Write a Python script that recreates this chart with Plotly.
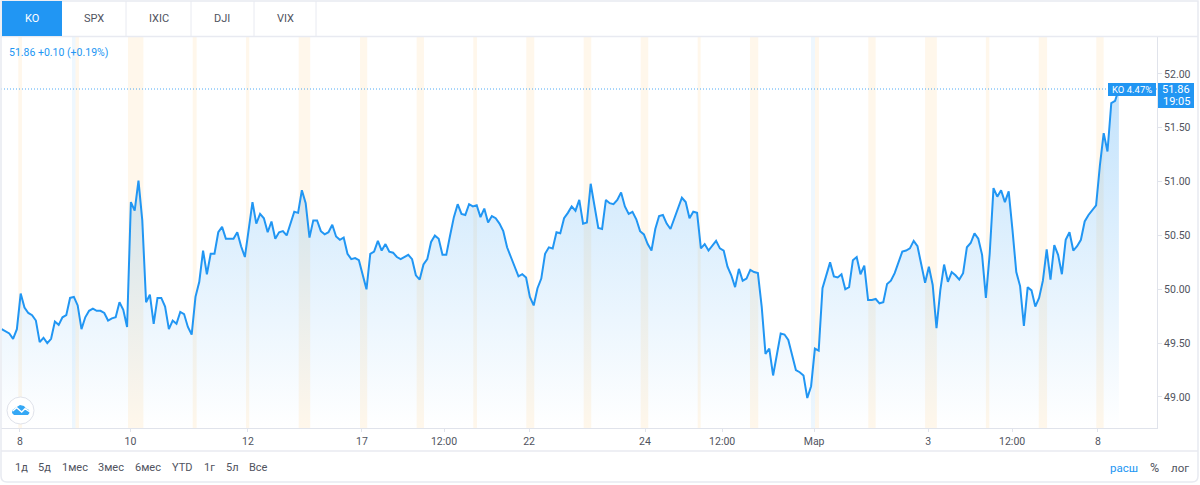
import plotly.graph_objects as go

W, H = 1200, 485
BLUE = "#2196f3"
GRID = "#e0e3eb"
TEXT = "#50535e"
FONT = "Roboto"

# KO price, one value per bar
prices = [
    49.63, 49.61, 49.59, 49.54, 49.63, 49.96, 49.83, 49.78, 49.76, 49.71,
    49.51, 49.55, 49.50, 49.54, 49.70, 49.67, 49.74, 49.76, 49.92, 49.93,
    49.85, 49.63, 49.74, 49.80, 49.82, 49.80, 49.80, 49.78, 49.71, 49.73,
    49.74, 49.88, 49.81, 49.65, 50.81, 50.73, 51.01, 50.64, 49.88, 49.95,
    49.68, 49.92, 49.92, 49.84, 49.63, 49.71, 49.68, 49.79, 49.77, 49.65,
    49.58, 49.93, 50.07, 50.36, 50.14, 50.33, 50.33, 50.53, 50.58, 50.47,
    50.47, 50.47, 50.53, 50.40, 50.30, 50.55, 50.81, 50.61, 50.70, 50.66,
    50.53, 50.63, 50.47, 50.53, 50.54, 50.50, 50.61, 50.72, 50.71, 50.92,
    50.80, 50.48, 50.64, 50.64, 50.54, 50.51, 50.53, 50.60, 50.49, 50.46,
    50.48, 50.33, 50.28, 50.29, 50.27, 50.13, 50.00, 50.33, 50.35, 50.45,
    50.36, 50.42, 50.35, 50.34, 50.30, 50.28, 50.30, 50.32, 50.28, 50.13,
    50.09, 50.23, 50.28, 50.44, 50.50, 50.47, 50.32, 50.32, 50.50, 50.67,
    50.79, 50.70, 50.69, 50.79, 50.77, 50.78, 50.67, 50.75, 50.62, 50.68,
    50.66, 50.61, 50.54, 50.39, 50.30, 50.20, 50.12, 50.14, 50.11, 49.93,
    49.85, 50.01, 50.10, 50.33, 50.39, 50.38, 50.53, 50.52, 50.66, 50.71,
    50.77, 50.73, 50.83, 50.61, 50.62, 50.98, 50.77, 50.57, 50.56, 50.83,
    50.80, 50.79, 50.83, 50.90, 50.77, 50.70, 50.72, 50.65, 50.54, 50.51,
    50.42, 50.36, 50.56, 50.68, 50.69, 50.61, 50.56, 50.66, 50.77, 50.85,
    50.81, 50.66, 50.72, 50.71, 50.38, 50.42, 50.36, 50.40, 50.45, 50.38,
    50.36, 50.21, 50.13, 50.02, 50.19, 50.08, 50.10, 50.18, 50.16, 50.15,
    49.84, 49.40, 49.45, 49.20, 49.41, 49.59, 49.58, 49.53, 49.39, 49.25,
    49.23, 49.20, 48.99, 49.10, 49.45, 49.43, 50.01, 50.12, 50.25, 50.12,
    50.11, 50.14, 50.00, 50.02, 50.27, 50.30, 50.14, 50.22, 49.90, 49.90,
    49.91, 49.87, 49.88, 50.05, 50.08, 50.15, 50.26, 50.35, 50.36, 50.38,
    50.45, 50.40, 50.23, 50.06, 50.21, 50.04, 49.64, 49.99, 50.23, 50.07,
    50.16, 50.13, 50.09, 50.15, 50.39, 50.43, 50.52, 50.47, 50.32, 49.92,
    50.33, 50.94, 50.86, 50.92, 50.81, 50.91, 50.55, 50.16, 50.03, 49.66,
    50.02, 49.99, 49.84, 49.92, 50.08, 50.37, 50.09, 50.41, 50.32, 50.14,
    50.46, 50.53, 50.36, 50.40, 50.46, 50.63, 50.69, 50.73, 50.78, 51.15,
    51.45, 51.28, 51.73, 51.75, 51.86,
]
last_price = 51.86

# session bands as bar positions
pre_market = [
    (4.37, 5.34), (19.42, 20.34), (33.24, 37.3), (50.26, 51.32), (64.3, 65.16),
    (78.16, 81.2), (94.29, 96.2), (109.2, 111.13), (124.1, 125.08), (138.05, 140.16),
    (153.16, 155.16), (168.16, 170.16), (183.16, 183.95), (196.9, 199.1), (214.03, 215.08),
    (228.05, 230.0), (243.0, 246.1), (259.0, 259.9), (272.9, 275.1), (288.05, 290.0),
]
post_market = [(18.5, 19.42), (212.97, 214.03)]

x_tick_vals = [4.8, 33.9, 64.8, 94.8, 116.4, 138.8, 169.3, 189.6, 213.8, 243.8, 265.9, 288.5]
x_tick_text = ["8", "10", "12", "17", "12:00", "22", "24", "12:00", "Мар", "3", "12:00", "8"]
y_tick_vals = [49, 49.5, 50, 50.5, 51, 51.5, 52]
y_tick_text = ["49.00", "49.50", "50.00", "50.50", "51.00", "51.50", "52.00"]

tabs = ["KO", "SPX", "IXIC", "DJI", "VIX"]
ranges = ["1д", "5д", "1мес", "3мес", "6мес", "YTD", "1г", "5л", "Все"]


def px(x):
    return x / W


def py(y):
    return 1 - y / H


def box(x0, y0, x1, y1, **kw):
    return dict(type="rect", xref="paper", yref="paper", x0=px(x0), x1=px(x1), y0=py(y0), y1=py(y1), **kw)


def label(x, y, text, color=TEXT, size=10.5, anchor="center"):
    return dict(xref="paper", yref="paper", x=px(x), y=py(y), text=text, showarrow=False,
                xanchor=anchor, yanchor="middle", font=dict(family=FONT, size=size, color=color))


def poly(points, closed=True, **kw):
    path = "M " + " L ".join(f"{px(a):.5f} {py(b):.5f}" for a, b in points) + (" Z" if closed else "")
    return dict(type="path", xref="paper", yref="paper", path=path, **kw)


fig = go.Figure()
fig.add_trace(go.Scatter(
    x=list(range(len(prices))), y=prices, mode="lines",
    line=dict(color=BLUE, width=2),
    fill="tozeroy",
    fillgradient=dict(type="vertical", start=48.7, stop=52.0,
                      colorscale=[[0, "rgba(33,150,243,0.0)"], [1, "rgba(33,150,243,0.28)"]]),
    hoverinfo="skip",
))

shapes = []
for start, stop in pre_market:
    shapes.append(dict(type="rect", xref="x", yref="y domain", x0=start, x1=stop, y0=0, y1=1,
                       fillcolor="rgba(255,152,0,0.08)", line_width=0, layer="below"))
for start, stop in post_market:
    shapes.append(dict(type="rect", xref="x", yref="y domain", x0=start, x1=stop, y0=0, y1=1,
                       fillcolor="rgba(33,150,243,0.08)", line_width=0, layer="below"))

# last price dotted line
shapes.append(dict(type="line", xref="x domain", yref="y", x0=0, x1=1, y0=last_price, y1=last_price,
                   line=dict(color=BLUE, width=0.8, dash="1px,2px")))

# frame and toolbars
light = dict(color="#e8eaf1", width=1.5)
shapes.append(dict(type="path", xref="paper", yref="paper", line=light, path=(
    f"M {px(1)} {py(1)} L {px(1)} {py(476)} Q {px(1)} {py(482)} {px(7)} {py(482)} "
    f"L {px(1192)} {py(482)} Q {px(1198)} {py(482)} {px(1198)} {py(476)} L {px(1198)} {py(1)} Z")))
shapes.append(dict(type="line", xref="paper", yref="paper", x0=px(1), x1=px(1198), y0=py(36.5), y1=py(36.5), line=light))
shapes.append(dict(type="line", xref="paper", yref="paper", x0=px(1), x1=px(1198), y0=py(451), y1=py(451), line=light))
shapes.append(box(2, 1, 62, 36, fillcolor=BLUE, line_width=0))
for tab_edge in [126, 191, 254, 316]:
    shapes.append(dict(type="line", xref="paper", yref="paper", x0=px(tab_edge), x1=px(tab_edge),
                       y0=py(1), y1=py(36), line=dict(color="#e8eaf1", width=1)))

# last value tags
shapes.append(box(1108, 83, 1156, 96, fillcolor=BLUE, line_width=0))
shapes.append(box(1158, 83, 1194, 108, fillcolor=BLUE, line_width=0))

# logo
shapes.append(dict(type="circle", xref="paper", yref="paper", x0=px(7), x1=px(34), y0=py(397), y1=py(424),
                   fillcolor="white", line=dict(color=GRID, width=1)))
shapes.append(poly([(12, 413), (12.5, 410), (16, 407.5), (20, 405), (24, 406), (26, 408.5), (29, 410),
                    (29.5, 413), (28, 415), (14, 415)], fillcolor="#35a8f5", line_width=0))
shapes.append(poly([(12.7, 411), (16.7, 407.7), (21.7, 412), (25, 408.7), (30, 412)], closed=False,
                   line=dict(color="white", width=1.4)))

annotations = [label(x, 18.5, t, color="white" if t == "KO" else TEXT, size=11)
               for x, t in zip([31.5, 94, 158.5, 222, 285], tabs)]
annotations.append(label(6.5, 52.5, "51.86 +0.10 (+0.19%)", color=BLUE, size=10.5, anchor="left"))
annotations.append(label(1132, 89.5, "KO 4.47%", color="white", size=9.5))
annotations.append(label(1176, 89.5, "51.86", color="white", size=11))
annotations.append(label(1176, 101, "19:05", color="white", size=11))
for x, t in zip([21, 44.5, 75, 111, 148, 182, 209, 232, 258], ranges):
    annotations.append(label(x, 467.5, t, size=11))
annotations.append(label(1124, 467.5, "расш", color=BLUE, size=11.5))
annotations.append(label(1154, 467.5, "%", size=12.5))
annotations.append(label(1180, 467.5, "лог", size=11.5))

fig.update_layout(
    width=W, height=H,
    autosize=False,
    margin=dict(l=0, r=0, t=0, b=0),
    paper_bgcolor="white", plot_bgcolor="white",
    showlegend=False,
    shapes=shapes, annotations=annotations,
    xaxis=dict(domain=[px(1), px(1157)], range=[-0.18, 304.03], showgrid=False, zeroline=False,
               tickmode="array", tickvals=x_tick_vals, ticktext=x_tick_text,
               ticks="outside", ticklen=3, tickcolor=GRID, showline=True, linecolor=GRID,
               tickfont=dict(family=FONT, size=10.5, color=TEXT), automargin=False),
    yaxis=dict(domain=[py(428), py(37)], range=[48.712, 52.343], side="right", showgrid=False, zeroline=False,
               tickmode="array", tickvals=y_tick_vals, ticktext=y_tick_text,
               ticks="outside", ticklen=4, tickcolor=GRID, showline=True, linecolor=GRID,
               tickfont=dict(family=FONT, size=10.5, color=TEXT), automargin=False),
)

fig.write_html("out.html", config=dict(displayModeBar=False),
               post_script="document.body.style.margin='0';")
